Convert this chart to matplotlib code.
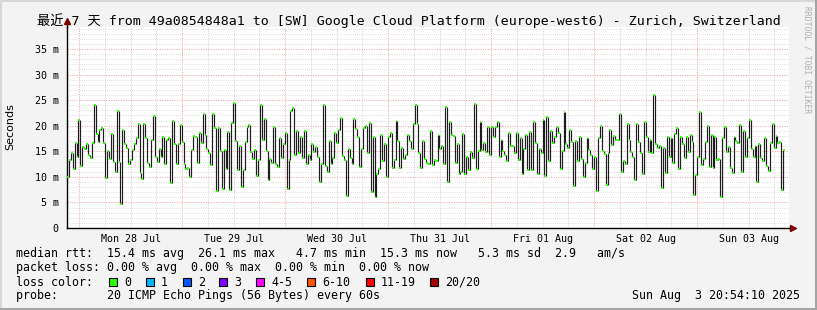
import numpy as np
import matplotlib
matplotlib.use("Agg")
from matplotlib import pyplot as plt
from matplotlib.patches import Rectangle
from matplotlib.lines import Line2D

# median rtt in ms left to right (one value per step)
median_ms = [
    10.0, 13.3, 14.7, 11.6, 16.7, 13.9, 21.2, 12.1, 15.9, 15.4, 16.4, 14.3, 13.7, 16.7, 24.1, 18.3,
    16.9, 19.1, 19.5, 16.7, 9.8, 15.1, 13.5, 18.3, 12.9, 11.0, 22.9, 12.9, 4.7, 19.1, 16.5, 15.7,
    12.5, 13.3, 15.2, 16.5, 17.5, 20.3, 10.8, 9.6, 20.3, 17.5, 12.8, 12.0, 17.3, 21.9, 13.9, 12.9,
    15.4, 13.9, 17.8, 12.5, 17.2, 17.5, 8.8, 20.9, 16.5, 12.5, 16.4, 20.2, 16.9,
    12.6, 11.5, 11.8, 10.0, 15.2, 18.0, 17.8, 12.8, 18.6, 16.7, 22.3, 18.2, 15.4, 14.7, 12.3, 22.3,
    19.5, 7.3, 19.5, 15.1, 7.6, 15.2, 11.6, 18.8, 7.4, 20.6, 24.5, 17.1, 11.3, 16.0, 8.0, 11.3,
    16.9, 19.8, 20.2, 14.9, 13.4, 15.2, 10.1, 13.3, 24.0, 17.2, 21.4, 15.1, 9.4, 13.4, 12.8, 19.8,
    12.6, 12.0, 17.5, 13.6, 16.5, 18.6, 7.6, 13.3, 22.9, 23.4, 14.3, 19.0, 14.7, 17.7, 13.6,
    19.0, 12.6, 14.3, 13.3, 16.4, 14.9, 15.9, 13.9, 9.0, 12.5, 24.0, 12.1, 11.0, 17.1, 12.5, 13.6,
    18.6, 16.7, 19.1, 21.6, 14.1, 13.3, 6.2, 15.4, 13.6, 12.5, 21.4, 19.3, 17.8, 12.0, 15.4, 19.5,
    19.9, 14.6, 20.6, 7.0, 17.8, 6.1, 10.6, 11.6, 18.2, 13.1, 16.4, 9.9, 17.8, 18.5, 11.8, 13.3,
    21.0, 17.1, 11.8, 15.6, 13.4, 14.3, 18.2, 17.1, 15.4, 20.3, 24.0, 20.3, 14.7, 11.8, 17.1,
    13.4, 12.8, 12.5, 19.0, 12.3, 13.3, 13.1, 18.2, 15.4, 16.0, 12.5, 23.7, 9.0, 20.8, 18.2, 18.0,
    12.8, 16.4, 10.5, 11.0, 18.4, 10.5, 13.9, 11.3, 14.9, 13.6, 24.2, 11.6, 15.1, 20.8, 15.2, 16.7,
    14.9, 19.8, 14.3, 19.7, 17.8, 19.8, 20.8, 13.9, 17.2, 15.1, 14.3, 13.1, 18.6, 16.0, 16.0, 14.6,
    18.6, 13.3, 17.5, 10.5, 15.4, 18.2, 11.3, 18.8, 11.3, 20.8, 16.7, 10.5, 15.4, 14.6, 21.2,
    10.1, 21.7, 13.1, 19.0, 16.7, 17.8, 19.7, 18.6, 11.6, 15.1, 22.7, 16.5, 15.6, 19.1, 16.9, 8.2,
    17.1, 13.1, 17.8, 13.4, 9.9, 12.8, 17.5, 15.2, 14.3, 11.5, 13.9, 7.3, 17.5, 19.9, 15.1, 14.4,
    8.5, 14.7, 19.1, 16.2, 18.0, 17.3, 17.2, 22.3, 11.0, 13.1, 12.6, 20.4, 17.2, 14.9, 13.9, 9.4,
    20.4, 16.9, 14.6, 10.5, 20.8, 17.7, 14.9, 17.3, 14.6, 26.1, 16.5, 15.6, 16.0, 7.9, 15.6, 10.8,
    17.8,
    13.9, 17.5, 12.8, 18.4, 19.5, 11.6, 17.8, 16.5, 13.6, 17.7, 14.9, 18.2, 16.9, 6.4, 10.3, 13.8,
    22.7, 12.3, 13.4, 16.9, 19.9, 12.0, 18.2, 11.8, 17.8, 13.3, 13.4, 6.0, 17.5, 19.8, 14.9, 15.8,
    11.8, 10.8, 17.8, 17.1, 16.7, 20.1, 11.0, 19.0, 13.9, 17.5, 21.2, 15.4, 13.9, 16.0, 9.0, 16.5,
    13.6, 13.1, 17.5, 12.1, 11.2, 16.7, 20.3, 15.6, 18.0, 16.7, 16.9, 7.4, 15.3,
]

# hours relative to Mon 28 Jul 00:00
t_start, t_data_end, t_end = -2.8, 164.5, 165.4
day_labels = ["Mon 28 Jul", "Tue 29 Jul", "Wed 30 Jul", "Thu 31 Jul",
              "Fri 01 Aug", "Sat 02 Aug", "Sun 03 Aug"]
y_ticks = [0, 5, 10, 15, 20, 25, 30, 35]
y_tick_labels = ["0", "5 m", "10 m", "15 m", "20 m", "25 m", "30 m", "35 m"]

loss_labels = ["0", "1", "2", "3", "4-5", "6-10", "11-19", "20/20"]
loss_colors = ["#26ff00", "#00b8ff", "#0059ff", "#7e00ff", "#ff00ff", "#ff5500", "#ff0000", "#a10000"]
loss_box_x = [109, 146, 183, 219, 256, 307, 366, 430]

title = "最近 7 天 from 49a0854848a1 to [SW] Google Cloud Platform (europe-west6) - Zurich, Switzerland"
stats_rtt = "median rtt:  15.4 ms avg  26.1 ms max   4.7 ms min  15.3 ms now   5.3 ms sd  2.9   am/s"
stats_loss = "packet loss: 0.00 % avg  0.00 % max  0.00 % min  0.00 % now"
probe_line = "probe:       20 ICMP Echo Pings (56 Bytes) every 60s"
stamp = "Sun Aug  3 20:54:10 2025"

W, H = 817, 310
MONO = ["DejaVu Sans Mono", "Noto Sans CJK SC"]

def fx(x):
    return x / W

def fy(y):
    return 1 - y / H

fig = plt.figure(figsize=(W / 100, H / 100), dpi=100, facecolor="#f3f3f3")
ax = fig.add_axes([fx(67), fy(228), fx(789) - fx(67), fy(27) - fy(228)])
ax.set_facecolor("white")
ax.set_xlim(t_start, t_end)
ax.set_ylim(0, 39.3)

# grid, rrdtool style
dot = (0, (1, 1.5))
for h in np.arange(0, 166, 6):
    if h % 24 == 0:
        ax.axvline(h, color="#f0a0a0", lw=0.7, ls=dot, zorder=1)
    else:
        ax.axvline(h, color="#cfcfcf", lw=0.7, ls=dot, zorder=1)
for v in range(1, 40):
    if v % 5 == 0:
        ax.axhline(v, color="#f0a0a0", lw=0.7, ls=dot, zorder=1)
    else:
        ax.axhline(v, color="#d8d8d8", lw=0.6, ls=dot, zorder=1)

# median steps
vals = np.array(median_ms)
edges = np.linspace(t_start, t_data_end, len(vals) + 1)
ax.vlines(edges[1:-1], vals[:-1], vals[1:], color="#1e1e1e", lw=0.85, zorder=3)
ax.hlines(vals, edges[:-1], edges[1:], color=loss_colors[0], lw=1.3, zorder=4)

for s in ["top", "right"]:
    ax.spines[s].set_visible(False)
for s in ["left", "bottom"]:
    ax.spines[s].set_color("black")
    ax.spines[s].set_linewidth(1.0)

ax.set_yticks(y_ticks, y_tick_labels, family=MONO, fontsize=7.2)
ax.set_xticks(np.arange(12, 166, 24), day_labels, family=MONO, fontsize=7.2)
ax.tick_params(axis="both", length=0, colors="black")
ax.tick_params(axis="y", pad=6)
ax.tick_params(axis="x", pad=4)

# axis arrows
ax.plot([0, 0], [1.0, 1.03], transform=ax.transAxes, color="black", lw=1, clip_on=False)
ax.plot([0], [1.03], marker="^", ms=5, color="#800000", transform=ax.transAxes, clip_on=False)
ax.plot([1.0, 1.004], [0, 0], transform=ax.transAxes, color="black", lw=1, clip_on=False)
ax.plot([1.006], [0], marker=">", ms=5, color="#800000", transform=ax.transAxes, clip_on=False)

fig.text(fx(408.5), fy(21), title, family=MONO, fontsize=9.5, ha="center", va="center")
fig.text(fx(10), fy(127), "Seconds", fontsize=8, rotation=90, ha="center", va="center")
fig.text(fx(807), fy(60), "RRDTOOL / TOBI OETIKER", family=MONO, fontsize=5.8,
         color="#b0b0b0", rotation=270, ha="center", va="center")

fs = 8.4
fig.text(fx(16), fy(254), stats_rtt, family=MONO, fontsize=fs, va="center")
fig.text(fx(16), fy(268), stats_loss, family=MONO, fontsize=fs, va="center")
fig.text(fx(16), fy(282), "loss color:", family=MONO, fontsize=fs, va="center")
for x, lab, c in zip(loss_box_x, loss_labels, loss_colors):
    fig.add_artist(Rectangle((fx(x), fy(286)), 8 / W, 8 / H, transform=fig.transFigure,
                             facecolor=c, edgecolor="black", lw=0.8))
    fig.text(fx(x + 15), fy(282), lab, family=MONO, fontsize=fs, va="center")
fig.text(fx(16), fy(296), probe_line, family=MONO, fontsize=fs, va="center")
fig.text(fx(800), fy(296), stamp, family=MONO, fontsize=fs, va="center", ha="right")

# frame around the image
fig.add_artist(Line2D([0, 1], [fy(0.5), fy(0.5)], transform=fig.transFigure, color="#d6d6d6", lw=1.5))
fig.add_artist(Line2D([fx(0.5), fx(0.5)], [0, 1], transform=fig.transFigure, color="#d6d6d6", lw=1.5))
fig.add_artist(Line2D([0, 1], [fy(308.5), fy(308.5)], transform=fig.transFigure, color="#a4a4a4", lw=2.2))
fig.add_artist(Line2D([fx(815.5), fx(815.5)], [0, 1], transform=fig.transFigure, color="#a4a4a4", lw=2.2))

fig.savefig("out.png", dpi=100, facecolor=fig.get_facecolor())
